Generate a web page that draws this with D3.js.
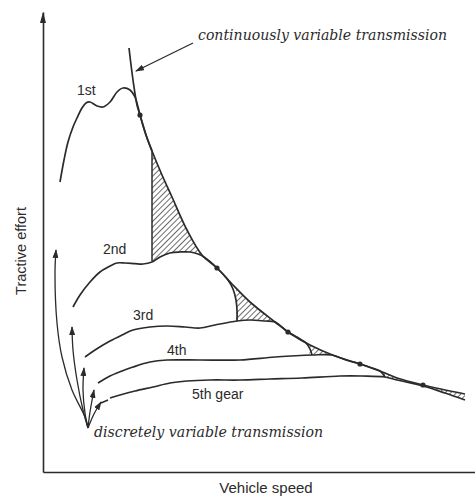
<!DOCTYPE html>
<html>
<head>
<meta charset="utf-8">
<script src="https://cdn.jsdelivr.net/npm/d3@7"></script>
<style>
  body { margin: 0; background: #fff; }
  text { fill: #2b2b2b; }
</style>
</head>
<body>
<svg id="chart" width="475" height="500"></svg>
<script>
// ##########################################   DATA (speed, effort) in arbitrary units
// continuously variable transmission - ideal tractive effort hyperbola
const cvtCurve = [
  [21.5, 106], [22.5, 98], [23.5, 91.75], [24.25, 89.25], [25.75, 84.25], [27.25, 80.25],
  [29.75, 74.25], [32.25, 68.75], [36, 60.5], [39.75, 54.25], [43.5, 51], [47.25, 47],
  [51.75, 42.5], [58, 37.5], [61.25, 35], [66.75, 31.75], [73, 29], [79.25, 27],
  [85.5, 24.75], [88.5, 23.5], [95, 21.75], [105.5, 19.5]
];

// gear curves (each one runs along the cvt curve and then drops to the next gear)
const gear1 = [
  [4.25, 72.5], [5.25, 78], [6.25, 82.5], [7.5, 86.25], [8.5, 88.5], [9.75, 91], [10.75, 92.25],
  [11.75, 92.5], [13.5, 91.5], [15, 91.25], [16.75, 92.5], [18.5, 95], [20, 96], [21.75, 95.5],
  [23, 93.75], [23.75, 91.25], [24.25, 89.25], [25.75, 84.25], [27.25, 80.25]
];
const gear1Shift = [[27.25, 80.25], [27.25, 52.75]];
const gear2 = [
  [7.5, 41.25], [9.25, 44.25], [11.75, 47.5], [14.25, 50], [16.75, 51.5], [18.5, 52.25],
  [20.5, 52.25], [23, 52.1], [25, 52], [27.25, 52.5], [29.25, 53.75], [31.75, 54.75], [34.25, 55],
  [36.75, 55], [38.75, 54.5], [40.25, 53.75], [43.5, 51], [46.25, 48], [47.5, 45.75],
  [48.25, 43], [48.5, 40.5], [48.5, 37.75]
];
const gear3 = [
  [10.5, 28.75], [13, 30.5], [16.75, 32.75], [19.75, 34.25], [22.5, 35.5], [26.75, 36.25],
  [31, 36.5], [35.5, 36.25], [39.25, 36], [43, 36.75], [48.5, 37.75], [51.75, 38], [55.5, 37.75],
  [58, 37.5], [61.25, 35], [64.25, 33.25], [65.75, 32.25], [66.75, 30.75], [67.25, 29.25]
];
const gear4 = [
  [13.75, 22.25], [16.75, 24], [19.75, 25.25], [22.5, 26.25], [26.75, 27.5], [31, 28],
  [39.25, 28], [49.25, 28], [58, 28.75], [67.25, 29.25], [72.25, 29.25], [75.75, 28],
  [79.25, 27], [82.25, 26], [84.25, 25.25], [85, 24.5], [85.5, 23.75]
];
const gear5 = [
  [16.75, 18.5], [19.25, 19.25], [23, 20.25], [27.5, 21.25], [31.75, 22.25], [36, 22.75],
  [41.75, 23], [49.25, 23], [56.75, 23.25], [64.75, 23.5], [74.25, 24], [79.75, 24],
  [85.5, 23.75], [88.5, 23], [95, 21.5], [100.5, 19.75], [105.5, 18]
];
const gearCurves = [gear1, gear2, gear3, gear4, gear5];
const gearLabels = ['1st', '2nd', '3rd', '4th', '5th gear'];

// points where a gear curve touches the cvt curve
const touchPoints = [[24.25, 89.25], [43.5, 51], [61.25, 35], [79.25, 27], [95, 21.75]];

// gaps between cvt and the stepped gear envelope: [from speed, to speed, lower gear index]
const gaps = [[27.25, 40.25, 1], [48.3, 58, 2], [66.6, 72.3, 3], [85.2, 88.6, 4], [98, 105.5, 4]];

// discrete transmission arrows, all leaving one point near the origin
const shiftArrows = [
  [[11.25, 11], [10.5, 13.75], [7.25, 20.5], [4.75, 28.75], [3.5, 37.25], [3, 49.75], [3.25, 55.5]],
  [[11.25, 11], [10, 15.5], [8.5, 23], [7.5, 30.5], [7.25, 36.25]],
  [[11.25, 11], [10.5, 14.75], [10, 20.5], [10.25, 26]],
  [[11.25, 11], [11.75, 15], [12.75, 20.5]],
  [[11.25, 11], [12.75, 14.5], [14.5, 17.5]]
];
const gear5Dash = [[14.5, 17.25], [16.25, 18]];

// ##########################################   SCALES / SETUP
const svg = d3.select('#chart');

const x = d3.scaleLinear().domain([0, 108]).range([43, 475]);
const y = d3.scaleLinear().domain([0, 115]).range([472, 12]);

const ink = '#2b2b2b';
const smooth = d3.curveCatmullRom.alpha(0.5);
const line = d3.line().x((d) => x(d[0])).y((d) => y(d[1])).curve(smooth);
const straight = d3.line().x((d) => x(d[0])).y((d) => y(d[1]));

const defs = svg.append('defs');

// diagonal hatch pattern
const pattern = defs.append('pattern')
  .attr('id', 'hatch')
  .attr('patternUnits', 'userSpaceOnUse')
  .attr('width', 4)
  .attr('height', 4)
  .attr('patternTransform', 'rotate(45)');
pattern.append('line')
  .attr('x1', 0).attr('y1', 0).attr('x2', 0).attr('y2', 4)
  .attr('stroke', '#2e2e2e')
  .attr('stroke-width', 1.4);

// arrow head
defs.append('marker')
  .attr('id', 'head')
  .attr('markerUnits', 'userSpaceOnUse')
  .attr('markerWidth', 9)
  .attr('markerHeight', 6)
  .attr('refX', 8)
  .attr('refY', 3)
  .attr('orient', 'auto')
  .append('path')
  .attr('d', 'M0,0L9,3L0,6Z')
  .attr('fill', ink);

// clip: everything under the cvt curve
defs.append('clipPath')
  .attr('id', 'below-cvt')
  .append('path')
  .attr('d', d3.area().x((d) => x(d[0])).y0(y(0)).y1((d) => y(d[1])).curve(smooth)(cvtCurve));

// clip: everything above each gear curve
gearCurves.forEach((g, i) => {
  defs.append('clipPath')
    .attr('id', 'above-gear' + i)
    .append('path')
    .attr('d', d3.area().x((d) => x(d[0])).y0((d) => y(d[1])).y1(y(115)).curve(smooth)(g));
});

// ##########################################   AXES
svg.append('g')
  .attr('transform', `translate(0,${y(0)})`)
  .call(d3.axisBottom(x).tickValues([]).tickSizeOuter(0))
  .call((g) => g.select('.domain').attr('stroke', ink).attr('stroke-width', 1.6));

svg.append('g')
  .attr('transform', `translate(${x(0)},0)`)
  .call(d3.axisLeft(y).tickValues([]).tickSizeOuter(0))
  .call((g) => g.select('.domain').attr('stroke', ink).attr('stroke-width', 1.6));

// arrow at top of the effort axis
svg.append('path')
  .attr('d', `M${x(0)},${y(115)}l-3,11h6z`)
  .attr('fill', ink);

svg.append('text')
  .attr('transform', `translate(26,${y(55.25)}) rotate(-90)`)
  .attr('text-anchor', 'middle')
  .style('font', '14.5px "Liberation Sans", Arial, sans-serif')
  .text('Tractive effort');

svg.append('text')
  .attr('x', 266)
  .attr('y', 493)
  .attr('text-anchor', 'middle')
  .style('font', '15px "Liberation Sans", Arial, sans-serif')
  .text('Vehicle speed');

// ##########################################   HATCHED GAPS
gaps.forEach(([from, to, lower]) => {
  svg.append('g')
    .attr('clip-path', 'url(#below-cvt)')
    .append('g')
    .attr('clip-path', `url(#above-gear${lower})`)
    .append('rect')
    .attr('x', x(from))
    .attr('width', x(to) - x(from))
    .attr('y', y(115))
    .attr('height', y(0) - y(115))
    .attr('fill', 'url(#hatch)');
});

// ##########################################   CURVES
svg.append('g')
  .selectAll('path.gear')
  .data(gearCurves)
  .enter()
  .append('path')
  .classed('gear', true)
  .attr('d', line)
  .attr('fill', 'none')
  .attr('stroke', ink)
  .attr('stroke-width', 1.7);

svg.append('path')
  .attr('d', straight(gear1Shift))
  .attr('fill', 'none')
  .attr('stroke', ink)
  .attr('stroke-width', 1.5);

svg.append('path')
  .attr('d', line(cvtCurve))
  .attr('fill', 'none')
  .attr('stroke', ink)
  .attr('stroke-width', 1.7);

svg.append('g')
  .selectAll('circle')
  .data(touchPoints)
  .enter()
  .append('circle')
  .attr('cx', (d) => x(d[0]))
  .attr('cy', (d) => y(d[1]))
  .attr('r', 2.6)
  .attr('fill', ink);

// gear labels (anchored just above their curves)
const labelAt = [[8.5, 94.25], [15, 54.5], [22.5, 38], [31, 29.25], [37.25, 18.25]];
svg.append('g')
  .selectAll('text')
  .data(gearLabels)
  .enter()
  .append('text')
  .attr('x', (d, i) => x(labelAt[i][0]))
  .attr('y', (d, i) => y(labelAt[i][1]))
  .style('font', '14px "Liberation Sans", Arial, sans-serif')
  .text((d) => d);

// ##########################################   DISCRETE TRANSMISSION ARROWS
svg.append('g')
  .selectAll('path')
  .data(shiftArrows)
  .enter()
  .append('path')
  .attr('d', line)
  .attr('fill', 'none')
  .attr('stroke', ink)
  .attr('stroke-width', 1.3)
  .attr('marker-end', 'url(#head)');

svg.append('path')
  .attr('d', straight(gear5Dash))
  .attr('stroke', ink)
  .attr('stroke-width', 1.6);

svg.append('text')
  .attr('x', 94)
  .attr('y', 437)
  .attr('textLength', 229)
  .attr('lengthAdjust', 'spacingAndGlyphs')
  .style('font', 'italic 15px "DejaVu Serif", "Liberation Serif", serif')
  .text('discretely variable transmission');

// ##########################################   CVT ANNOTATION
svg.append('text')
  .attr('x', 198)
  .attr('y', 40)
  .attr('textLength', 249)
  .attr('lengthAdjust', 'spacingAndGlyphs')
  .style('font', 'italic 14px "DejaVu Serif", "Liberation Serif", serif')
  .text('continuously variable transmission');

svg.append('line')
  .attr('x1', 193)
  .attr('y1', 43)
  .attr('x2', 136)
  .attr('y2', 71)
  .attr('stroke', ink)
  .attr('stroke-width', 1.3)
  .attr('marker-end', 'url(#head)');
</script>
</body>
</html>
